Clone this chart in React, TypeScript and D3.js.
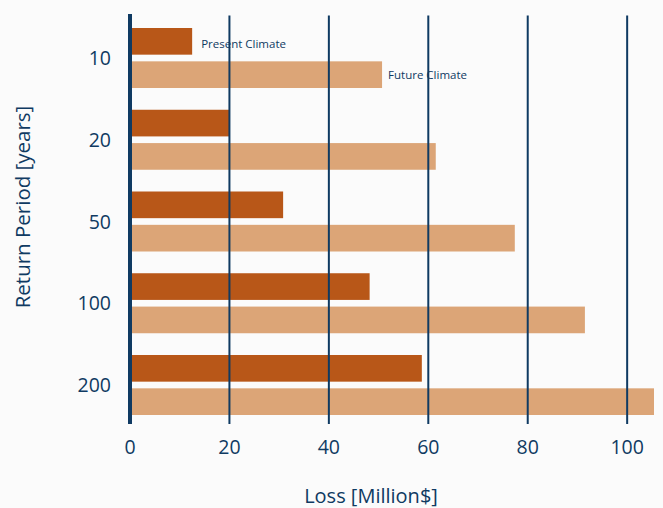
import React from "react";
import * as d3 from "d3";

const categories = ["10", "20", "50", "100", "200"];
const presentValues = [12.5, 20.1, 30.8, 48.2, 58.7];
const futureValues = [50.7, 61.5, 77.4, 91.5, 105.4];
const seriesNames = ["Present Climate", "Future Climate"];
const xTicks = [0, 20, 40, 60, 80, 100];

const W = 663;
const H = 508;
const NAVY = "#0f3a62";
const COLORS = ["#b85718", "#dca577"];
const FONT = "'Open Sans', sans-serif";

export default function App() {
  const x = d3.scaleLinear().domain([0, 105.6]).range([130, 655]);
  const y = d3.scaleBand<string>().domain(categories).range([28, 415]).paddingInner(0.266).paddingOuter(0);
  const sub = d3.scaleBand<number>().domain([0, 1]).range([0, y.bandwidth()]).paddingInner(0.2).paddingOuter(0);
  const series = [presentValues, futureValues];

  return (
    <svg width={W} height={H} style={{ position: "absolute", left: 0, top: 0, background: "#fbfbfb" }}>
      <rect x={0} y={0} width={W} height={H} fill="#fbfbfb" />
      {categories.map((c, i) =>
        series.map((vals, s) => (
          <rect
            key={c + s}
            x={x(0)}
            y={(y(c) as number) + (sub(s) as number)}
            width={x(vals[i]) - x(0)}
            height={sub.bandwidth()}
            fill={COLORS[s]}
          />
        ))
      )}
      {xTicks.slice(1).map((t) => (
        <line key={t} x1={x(t)} x2={x(t)} y1={15.5} y2={424} stroke={NAVY} strokeWidth={2} />
      ))}
      <line x1={x(0)} x2={x(0)} y1={14} y2={424} stroke={NAVY} strokeWidth={4} />
      {xTicks.map((t) => (
        <text key={t} x={x(t)} y={454} textAnchor="middle" fontSize={19.5} fontFamily={FONT} fill={NAVY} fontWeight={500}>
          {t}
        </text>
      ))}
      {categories.map((c) => (
        <text key={c} x={111} y={(y(c) as number) + y.bandwidth() / 2 + 7} textAnchor="end" fontSize={19.5} fontFamily={FONT} fill={NAVY} fontWeight={500}>
          {c}
        </text>
      ))}
      <text x={x(presentValues[0]) + 9} y={(y(categories[0]) as number) + (sub(0) as number) + sub.bandwidth() / 2 + 7} fontSize={11.5} fontFamily={FONT} fill={NAVY} fontWeight={500}>
        {seriesNames[0]}
      </text>
      <text x={x(futureValues[0]) + 6} y={(y(categories[0]) as number) + (sub(1) as number) + sub.bandwidth() / 2 + 4} fontSize={11.5} fontFamily={FONT} fill={NAVY} fontWeight={500}>
        {seriesNames[1]}
      </text>
      <text x={371} y={503} textAnchor="middle" fontSize={20} fontFamily={FONT} fill={NAVY} fontWeight={500}>
        Loss [Million$]
      </text>
      <text transform="translate(30,207) rotate(-90)" textAnchor="middle" fontSize={20.5} fontFamily={FONT} fill={NAVY} fontWeight={500}>
        Return Period [years]
      </text>
    </svg>
  );
}
